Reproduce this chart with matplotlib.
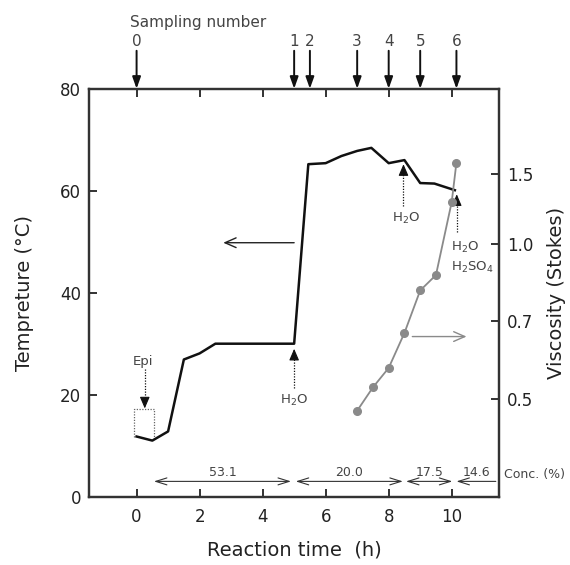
import numpy as np
import matplotlib
matplotlib.use("Agg")
import matplotlib.pyplot as plt
from matplotlib.ticker import NullLocator
import matplotlib.transforms as mtransforms

plt.rcParams['font.family'] = ['DejaVu Sans']
plt.rcParams['mathtext.default'] = 'regular'

# ---------------- data ----------------
temp_time = [0.0, 0.5, 1.0, 1.5, 2.0, 2.5, 5.0, 5.45, 6.0, 6.5, 7.0, 7.45, 8.0, 8.5, 9.0, 9.45, 10.1]
temp_vals = [11.8, 11.0, 12.8, 26.9, 28.1, 30.0, 30.0, 65.2, 65.4, 66.8, 67.8, 68.4, 65.4, 66.0, 61.5, 61.4, 60.1]

visc_time = [7.0, 7.5, 8.0, 8.5, 9.0, 9.5, 10.0, 10.15]
visc_vals = [0.47, 0.53, 0.58, 0.67, 0.82, 0.88, 1.30, 1.58]

sampling_time = [0.0, 5.0, 5.5, 7.0, 8.0, 9.0, 10.15]
sampling_labels = ['0', '1', '2', '3', '4', '5', '6']

conc_start = [0.55, 5.05, 8.55, 10.15]
conc_end = [4.9, 8.45, 10.02, 11.4]
conc_labels = ['53.1', '20.0', '17.5', '14.6']

x_ticks = [0, 2, 4, 6, 8, 10]
temp_ticks = [0, 20, 40, 60, 80]
visc_ticks = [0.5, 0.7, 1.0, 1.5]
visc_tick_labels = ['0.5', '0.7', '1.0', '1.5']

# right-axis (non-linear) scale definition: viscosity -> temperature-equivalent position
VISC_ANCHOR = np.array([0.5, 0.7, 1.0, 1.5])
POS_ANCHOR = np.array([19.15, 34.4, 49.5, 63.3])


def _pw(x, xp, fp):
    x = np.asarray(x, dtype=float)
    y = np.interp(x, xp, fp)
    lo_slope = (fp[1] - fp[0]) / (xp[1] - xp[0])
    hi_slope = (fp[-1] - fp[-2]) / (xp[-1] - xp[-2])
    y = np.where(x < xp[0], fp[0] + (x - xp[0]) * lo_slope, y)
    y = np.where(x > xp[-1], fp[-1] + (x - xp[-1]) * hi_slope, y)
    return y


def visc_to_pos(v):
    return _pw(v, VISC_ANCHOR, POS_ANCHOR)


def pos_to_visc(p):
    return _pw(p, POS_ANCHOR, VISC_ANCHOR)


# ---------------- figure ----------------
DARK = '#222222'
GREY = '#8a8a8a'
ANN = '#444444'

fig = plt.figure(figsize=(5.7, 5.65), dpi=100)
ax = fig.add_axes([0.1567, 0.1209, 0.7187, 0.7221])
ax.set_xlim(-1.5, 11.5)
ax.set_ylim(0, 80)
ax.set_xticks(x_ticks)
ax.set_yticks(temp_ticks)
ax.tick_params(axis='both', direction='in', length=6, width=1.3, colors=DARK, labelsize=12)
ax.tick_params(axis='x', top=True, pad=8)
ax.tick_params(axis='y', pad=6)
for s in ax.spines.values():
    s.set_linewidth(1.6)
    s.set_color('#333333')

ax.plot(temp_time, temp_vals, color='#111111', lw=1.8, zorder=3)

ax.set_xlabel('Reaction time  (h)', fontsize=14, color=DARK)
ax.set_ylabel('Tempreture (°C)', fontsize=14, color=DARK)
ax.xaxis.set_label_coords(0.5, -0.108)
ax.yaxis.set_label_coords(-0.135, 0.5)

# twin viscosity axis
ax2 = ax.twinx()
ax2.set_yscale('function', functions=(visc_to_pos, pos_to_visc))
ax2.set_ylim(float(pos_to_visc(0.0)), float(pos_to_visc(80.0)))
ax2.set_yticks(visc_ticks)
ax2.set_yticklabels(visc_tick_labels)
ax2.yaxis.set_minor_locator(NullLocator())
ax2.tick_params(axis='y', direction='in', length=6, width=1.3, colors=DARK, labelsize=12, pad=6)
for s in ax2.spines.values():
    s.set_linewidth(1.6)
    s.set_color('#333333')
ax2.plot(visc_time, visc_vals, color=GREY, lw=1.3, marker='o', ms=5.5,
         mfc=GREY, mec=GREY, zorder=2)
ax2.set_ylabel('Viscosity (Stokes)', fontsize=14, color=DARK)
ax2.yaxis.set_label_coords(1.118, 0.5)

# ---------------- annotations ----------------
# sampling arrows on top
trans_top = mtransforms.blended_transform_factory(ax.transData, ax.transAxes)
for t, lab in zip(sampling_time, sampling_labels):
    ax.annotate('', xy=(t, 1.0), xycoords=('data', 'axes fraction'),
                xytext=(t, 1.093), textcoords=('data', 'axes fraction'),
                arrowprops=dict(arrowstyle='-|>,head_length=0.7,head_width=0.25',
                                color='#111111', lw=1.4, shrinkA=0, shrinkB=0,
                                mutation_scale=10))
    ax.text(t, 1.097, lab, transform=trans_top, ha='center', va='bottom',
            fontsize=11, color=ANN)
ax.text(-0.2, 1.162, 'Sampling number', transform=trans_top, ha='left', va='center',
        fontsize=11, color=ANN)


def dotted_up_arrow(x, y0, tip, color='#111111'):
    ax.plot([x, x], [y0, tip - 1.4], ls=(0, (1, 1.2)), color=color, lw=0.9, zorder=4)
    ax.annotate('', xy=(x, tip), xytext=(x, tip - 1.5),
                arrowprops=dict(arrowstyle='-|>,head_length=0.7,head_width=0.3',
                                color=color, lw=0.8, shrinkA=0, shrinkB=0,
                                mutation_scale=10), zorder=5)


def dotted_down_arrow(x, y0, tip, color='#111111'):
    ax.plot([x, x], [y0, tip + 1.4], ls=(0, (1, 1.2)), color=color, lw=0.9, zorder=4)
    ax.annotate('', xy=(x, tip), xytext=(x, tip + 1.5),
                arrowprops=dict(arrowstyle='-|>,head_length=0.7,head_width=0.3',
                                color=color, lw=0.8, shrinkA=0, shrinkB=0,
                                mutation_scale=10), zorder=5)


# Epi
ax.text(0.21, 26.6, 'Epi', ha='center', va='center', fontsize=9.5, color=ANN)
dotted_down_arrow(0.26, 25.0, 17.3)
ax.plot([-0.09, -0.09, 0.55, 0.55], [11.8, 17.2, 17.2, 11.2], ls=(0, (1, 1.2)),
        color='#666666', lw=0.9, zorder=2)

# H2O additions
dotted_up_arrow(5.0, 21.4, 29.0)
ax.text(5.0, 18.9, 'H$_2$O', ha='center', va='center', fontsize=9.5, color=ANN)
dotted_up_arrow(8.47, 57.0, 65.2)
ax.text(8.55, 54.6, 'H$_2$O', ha='center', va='center', fontsize=9.5, color=ANN)
dotted_up_arrow(10.16, 52.0, 59.3)
ax.text(9.97, 48.8, 'H$_2$O', ha='left', va='center', fontsize=9.5, color=ANN)
ax.text(9.97, 45.0, 'H$_2$SO$_4$', ha='left', va='center', fontsize=9.5, color=ANN)

# axis-pointer arrows
ax.annotate('', xy=(2.75, 49.8), xytext=(5.0, 49.8),
            arrowprops=dict(arrowstyle='->,head_length=0.8,head_width=0.35',
                            color='#222222', lw=1.0, shrinkA=0, shrinkB=0,
                            mutation_scale=10))
ax.annotate('', xy=(10.47, 31.4), xytext=(8.75, 31.4),
            arrowprops=dict(arrowstyle='->,head_length=0.8,head_width=0.35',
                            color=GREY, lw=1.0, shrinkA=0, shrinkB=0,
                            mutation_scale=10))

# concentration arrows
for i, (s, e, lab) in enumerate(zip(conc_start, conc_end, conc_labels)):
    style = '<->' if i < len(conc_labels) - 1 else '<-'
    ax.annotate('', xy=(e, 3.0), xytext=(s, 3.0),
                arrowprops=dict(arrowstyle=style + ',head_length=0.8,head_width=0.25',
                                color='#333333', lw=0.8, shrinkA=0, shrinkB=0,
                                mutation_scale=10))
    ax.text((s + e) / 2, 3.5, lab, ha='center', va='bottom', fontsize=9, color=ANN)
trans_right = mtransforms.blended_transform_factory(ax.transAxes, ax.transData)
ax.text(1.012, 4.3, 'Conc. (%)', transform=trans_right, ha='left', va='center',
        fontsize=9, color=ANN)

fig.savefig('out.png', dpi=100)
